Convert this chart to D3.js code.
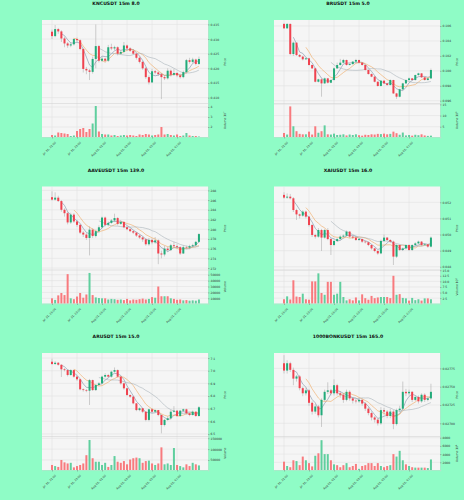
<!DOCTYPE html>
<html>
<head>
<meta charset="utf-8">
<script src="https://cdn.jsdelivr.net/npm/d3@7"></script>
<style>
  body { margin: 0; background: #8ffcc6; }
  svg text { font-family: "DejaVu Sans", sans-serif; }
</style>
</head>
<body>
<div id="chart"></div>
<script>
// shared x axis: 48 candles of 15m, a label every 8 candles
var xLabels = ["Jul 31, 21:00", "Jul 31, 23:00", "Aug 01, 01:00", "Aug 01, 03:00", "Aug 01, 05:00", "Aug 01, 07:00"];
var xTickIdx = [0, 8, 16, 24, 32, 40];
var maPeriods = [4, 8, 16];
var titles = ["KNCUSDT 15m 8.0", "BRUSDT 15m 5.0", "AAVEUSDT 15m 139.0", "XAIUSDT 15m 16.0", "ARUSDT 15m 15.0", "1000BONKUSDT 15m 165.0"];

// KNC
var kncOpen0 = 0.4325;
var kncClose = [0.4310, 0.4334, 0.4326, 0.4302, 0.4285, 0.4278, 0.4282, 0.4300, 0.4296, 0.4266, 0.4198, 0.4193, 0.4188, 0.4232, 0.4276, 0.4226, 0.4233, 0.4226, 0.4272, 0.4268, 0.4272, 0.4250, 0.4256, 0.4278, 0.4268, 0.4260, 0.4250, 0.4236, 0.4222, 0.4200, 0.4170, 0.4152, 0.4190, 0.4186, 0.4180, 0.4170, 0.4166, 0.4192, 0.4178, 0.4184, 0.4176, 0.4170, 0.4187, 0.4228, 0.4222, 0.4230, 0.4215, 0.4232];
var kncHigh = [0.4332, 0.4348, 0.4338, 0.4330, 0.4308, 0.4290, 0.4288, 0.4304, 0.4305, 0.4299, 0.4270, 0.4205, 0.4198, 0.4240, 0.4350, 0.4280, 0.4240, 0.4236, 0.4280, 0.4284, 0.4277, 0.4275, 0.4262, 0.4290, 0.4281, 0.4272, 0.4266, 0.4253, 0.4240, 0.4226, 0.4205, 0.4176, 0.4198, 0.4195, 0.4190, 0.4184, 0.4176, 0.4200, 0.4196, 0.4198, 0.4188, 0.4182, 0.4192, 0.4232, 0.4236, 0.4236, 0.4233, 0.4240];
var kncLow = [0.4300, 0.4306, 0.4318, 0.4290, 0.4272, 0.4270, 0.4272, 0.4278, 0.4290, 0.4262, 0.4186, 0.4180, 0.4160, 0.4182, 0.4200, 0.4220, 0.4222, 0.4220, 0.4222, 0.4262, 0.4262, 0.4244, 0.4246, 0.4252, 0.4262, 0.4256, 0.4246, 0.4230, 0.4217, 0.4195, 0.4164, 0.4145, 0.4150, 0.4180, 0.4174, 0.4095, 0.4160, 0.4162, 0.4172, 0.4174, 0.4170, 0.4165, 0.4166, 0.4182, 0.4216, 0.4218, 0.4210, 0.4212];
var kncVol = [1.20, 1.15, 1.45, 1.40, 1.35, 1.30, 1.10, 1.15, 1.60, 1.80, 1.90, 1.50, 1.80, 2.35, 4.10, 1.55, 1.30, 1.25, 1.25, 1.15, 1.20, 1.10, 1.15, 1.20, 1.15, 1.20, 1.15, 1.10, 1.25, 1.20, 1.30, 1.25, 1.15, 1.20, 1.25, 2.00, 1.25, 1.30, 1.20, 1.15, 1.25, 1.10, 1.15, 1.40, 1.15, 1.10, 1.10, 1.05];
var kncYLim = [0.4080, 0.4365];
var kncTicks = [0.410, 0.415, 0.420, 0.425, 0.430, 0.435];
var kncVLim = [1.0, 4.35];
var kncVTicks = [2, 3, 4];

// BR
var brOpen0 = 0.10627;
var brClose = [0.10569, 0.10627, 0.10225, 0.10377, 0.10212, 0.10190, 0.10154, 0.10167, 0.10078, 0.10033, 0.09854, 0.09886, 0.09832, 0.09899, 0.09841, 0.09877, 0.10033, 0.10078, 0.10109, 0.10145, 0.10078, 0.10090, 0.10123, 0.10145, 0.10109, 0.10078, 0.10011, 0.09957, 0.09922, 0.09854, 0.09797, 0.09868, 0.09832, 0.09810, 0.09877, 0.09698, 0.09654, 0.09752, 0.09832, 0.09877, 0.09899, 0.09877, 0.09944, 0.09966, 0.09913, 0.09877, 0.09899, 0.10011];
var brHigh = [0.10640, 0.10640, 0.10635, 0.10390, 0.10380, 0.10225, 0.10200, 0.10180, 0.10175, 0.10085, 0.10040, 0.09895, 0.09900, 0.09910, 0.09905, 0.09885, 0.10045, 0.10110, 0.10160, 0.10160, 0.10150, 0.10100, 0.10130, 0.10160, 0.10150, 0.10115, 0.10085, 0.10020, 0.09965, 0.09930, 0.09860, 0.09875, 0.09875, 0.09840, 0.09885, 0.09880, 0.09705, 0.09760, 0.09840, 0.09885, 0.09910, 0.09905, 0.09950, 0.09975, 0.09970, 0.09920, 0.09905, 0.10030];
var brLow = [0.10560, 0.10560, 0.10210, 0.10200, 0.10200, 0.10180, 0.10140, 0.10150, 0.10070, 0.10025, 0.09845, 0.09845, 0.09654, 0.09825, 0.09830, 0.09835, 0.09870, 0.10025, 0.10070, 0.10100, 0.10070, 0.10072, 0.10085, 0.10115, 0.10100, 0.10070, 0.10005, 0.09950, 0.09915, 0.09845, 0.09790, 0.09790, 0.09825, 0.09800, 0.09805, 0.09690, 0.09625, 0.09645, 0.09745, 0.09825, 0.09870, 0.09870, 0.09870, 0.09935, 0.09905, 0.09870, 0.09870, 0.09890];
var brVol = [2.2, 1.5, 14.1, 5.2, 3.0, 1.8, 1.6, 1.6, 2.8, 1.5, 5.2, 2.3, 3.0, 5.6, 1.6, 1.5, 1.9, 1.3, 1.4, 1.6, 1.1, 1.5, 1.3, 1.6, 1.2, 1.0, 1.4, 1.3, 1.6, 1.5, 1.8, 1.7, 1.9, 1.6, 1.8, 2.8, 2.1, 1.4, 2.4, 1.1, 1.3, 1.0, 1.4, 1.2, 1.6, 1.1, 0.9, 1.0];
var brYLim = [0.09563, 0.1068];
var brTicks = [0.096, 0.098, 0.100, 0.102, 0.104, 0.106];
var brVLim = [0.4, 15.4];
var brVTicks = [5, 10, 15];

// AAVE
var aaveOpen0 = 286.6;
var aaveClose = [286.1, 286.5, 285.8, 284.0, 283.3, 281.4, 283.0, 281.6, 280.9, 279.3, 278.9, 278.2, 279.9, 278.6, 279.6, 280.4, 282.4, 280.9, 281.3, 281.8, 282.3, 281.1, 281.5, 280.4, 280.0, 279.6, 279.3, 278.7, 278.3, 277.9, 276.9, 277.8, 277.3, 277.7, 275.0, 274.8, 276.0, 275.7, 276.7, 276.5, 276.3, 275.0, 276.3, 276.2, 276.5, 276.7, 277.4, 279.0];
var aaveHigh = [287.8, 287.6, 286.9, 286.0, 284.3, 283.6, 283.4, 283.3, 281.9, 281.0, 279.6, 279.2, 280.6, 280.2, 279.9, 280.8, 282.6, 282.6, 281.6, 282.1, 283.2, 282.5, 281.8, 281.6, 280.6, 280.2, 279.8, 279.4, 278.9, 278.5, 278.1, 278.2, 278.1, 278.4, 277.9, 275.6, 276.6, 276.4, 277.0, 277.4, 276.9, 276.5, 276.7, 276.6, 276.8, 277.0, 277.6, 279.2];
var aaveLow = [285.9, 285.9, 285.6, 283.6, 282.6, 281.0, 281.1, 281.3, 280.5, 279.0, 278.4, 277.8, 274.6, 278.2, 278.3, 279.2, 280.2, 280.6, 280.6, 281.1, 281.5, 280.8, 280.9, 280.2, 279.8, 279.4, 279.0, 278.4, 278.0, 277.4, 276.6, 276.6, 276.9, 277.0, 272.8, 274.0, 274.4, 275.4, 275.5, 276.2, 275.9, 274.7, 274.9, 275.9, 275.9, 276.2, 276.5, 277.2];
var aaveVol = [10000, 7300, 15000, 19000, 15500, 51000, 10000, 8500, 13000, 19000, 11000, 16500, 53000, 15500, 11500, 10500, 10000, 10000, 8000, 9000, 8500, 7500, 8000, 7000, 9000, 6500, 8000, 7500, 8500, 9500, 8000, 9000, 12000, 11000, 30000, 13500, 13500, 13500, 10000, 9000, 7500, 8000, 6500, 7000, 6000, 6500, 6000, 8000];
var aaveYLim = [271.6, 288.8];
var aaveTicks = [272, 274, 276, 278, 280, 282, 284, 286, 288];
var aaveVLim = [1200, 58000];
var aaveVTicks = [10000, 20000, 30000, 40000, 50000];

// XAI
var xaiOpen0 = 0.05246;
var xaiClose = [0.05229, 0.05235, 0.05225, 0.05152, 0.05125, 0.05117, 0.05142, 0.05111, 0.05059, 0.04997, 0.04987, 0.05028, 0.04981, 0.05028, 0.04972, 0.04935, 0.04960, 0.04972, 0.04987, 0.04993, 0.05018, 0.04987, 0.04981, 0.04966, 0.04972, 0.04956, 0.04952, 0.04935, 0.04914, 0.04898, 0.04883, 0.04960, 0.04981, 0.04966, 0.04956, 0.04863, 0.04935, 0.04904, 0.04914, 0.04935, 0.04904, 0.04935, 0.04945, 0.04956, 0.04935, 0.04939, 0.04925, 0.04981];
var xaiHigh = [0.05262, 0.05255, 0.05252, 0.05232, 0.05160, 0.05130, 0.05150, 0.05148, 0.05115, 0.05065, 0.05005, 0.05040, 0.05035, 0.05035, 0.05040, 0.04978, 0.04968, 0.04978, 0.04995, 0.05000, 0.05025, 0.05022, 0.04992, 0.04986, 0.04978, 0.04975, 0.04960, 0.04955, 0.04938, 0.04918, 0.04902, 0.04968, 0.05000, 0.04985, 0.04970, 0.04962, 0.04940, 0.04938, 0.04920, 0.04940, 0.04940, 0.04940, 0.04952, 0.04962, 0.04960, 0.04945, 0.04942, 0.04988];
var xaiLow = [0.05222, 0.05222, 0.05218, 0.05140, 0.05090, 0.05100, 0.05110, 0.05100, 0.05050, 0.04985, 0.04975, 0.04980, 0.04898, 0.04975, 0.04965, 0.04873, 0.04928, 0.04955, 0.04965, 0.04982, 0.04988, 0.04978, 0.04972, 0.04960, 0.04960, 0.04948, 0.04945, 0.04928, 0.04906, 0.04890, 0.04875, 0.04878, 0.04955, 0.04960, 0.04948, 0.04811, 0.04855, 0.04898, 0.04900, 0.04908, 0.04898, 0.04898, 0.04930, 0.04940, 0.04928, 0.04930, 0.04918, 0.04920];
var xaiVol = [2.0, 3.3, 1.9, 10.5, 3.2, 3.0, 4.5, 2.0, 1.8, 10.0, 10.0, 13.6, 4.8, 4.0, 9.8, 9.8, 4.0, 4.5, 9.8, 3.0, 1.5, 2.0, 1.5, 2.8, 1.5, 4.2, 2.5, 1.8, 3.5, 2.5, 2.8, 3.0, 3.0, 3.0, 2.5, 12.5, 4.0, 4.3, 2.6, 2.4, 1.4, 2.6, 1.6, 2.0, 1.4, 2.4, 2.4, 2.0];
var xaiYLim = [0.0478, 0.05298];
var xaiTicks = [0.048, 0.049, 0.050, 0.051, 0.052];
var xaiVLim = [0.1, 15.1];
var xaiVTicks = [2.5, 5.0, 7.5, 10.0, 12.5, 15.0];

// AR
var arOpen0 = 7.071;
var arClose = [7.053, 7.063, 7.047, 7.011, 7.005, 6.966, 7.005, 6.953, 6.932, 6.853, 6.847, 6.842, 6.926, 6.847, 6.887, 6.900, 6.953, 6.966, 6.953, 6.992, 7.005, 6.953, 6.900, 6.861, 6.808, 6.795, 6.742, 6.689, 6.703, 6.676, 6.611, 6.695, 6.676, 6.689, 6.650, 6.571, 6.611, 6.624, 6.676, 6.684, 6.642, 6.684, 6.695, 6.663, 6.650, 6.676, 6.642, 6.711];
var arHigh = [7.095, 7.075, 7.068, 7.050, 7.020, 7.010, 7.012, 7.010, 6.960, 6.935, 6.860, 6.855, 6.935, 6.930, 6.895, 6.910, 6.960, 6.980, 6.975, 7.000, 7.026, 7.010, 6.955, 6.905, 6.865, 6.812, 6.800, 6.745, 6.710, 6.705, 6.680, 6.700, 6.705, 6.695, 6.690, 6.655, 6.620, 6.640, 6.690, 6.720, 6.690, 6.690, 6.700, 6.700, 6.668, 6.685, 6.680, 6.720];
var arLow = [7.045, 7.045, 7.040, 6.950, 6.995, 6.955, 6.960, 6.945, 6.920, 6.845, 6.835, 6.830, 6.729, 6.840, 6.840, 6.880, 6.895, 6.945, 6.945, 6.945, 6.985, 6.945, 6.890, 6.850, 6.800, 6.785, 6.735, 6.680, 6.680, 6.665, 6.600, 6.600, 6.665, 6.670, 6.640, 6.505, 6.560, 6.605, 6.615, 6.670, 6.635, 6.635, 6.675, 6.655, 6.640, 6.645, 6.635, 6.636];
var arVol = [27000, 22000, 18000, 50000, 39000, 34000, 37000, 16000, 22000, 27000, 34000, 72000, 142000, 58000, 42000, 42000, 27000, 37000, 18000, 27000, 68000, 42000, 37000, 45000, 30000, 52000, 58000, 61000, 58000, 37000, 45000, 47000, 34000, 27000, 34000, 108000, 30000, 34000, 27000, 105000, 27000, 22000, 16000, 30000, 22000, 37000, 30000, 25000];
var arYLim = [6.48, 7.14];
var arTicks = [6.5, 6.6, 6.7, 6.8, 6.9, 7.0, 7.1];
var arVLim = [3900, 158000];
var arVTicks = [50000, 100000, 150000];

// 1000BONK
var bonkOpen0 = 0.02782;
var bonkClose = [0.02772, 0.02782, 0.02773, 0.02761, 0.02764, 0.02748, 0.02741, 0.02745, 0.02728, 0.02716, 0.02723, 0.02711, 0.02732, 0.02743, 0.02745, 0.02741, 0.02752, 0.02741, 0.02739, 0.02732, 0.02743, 0.02734, 0.02731, 0.02730, 0.02732, 0.02727, 0.02720, 0.02714, 0.02708, 0.02705, 0.02700, 0.02718, 0.02716, 0.02710, 0.02716, 0.02699, 0.02718, 0.02720, 0.02743, 0.02741, 0.02743, 0.02732, 0.02736, 0.02730, 0.02739, 0.02732, 0.02734, 0.02743];
var bonkHigh = [0.02793, 0.02786, 0.02784, 0.02776, 0.02766, 0.02766, 0.02750, 0.02748, 0.02747, 0.02730, 0.02726, 0.02725, 0.02734, 0.02746, 0.02756, 0.02747, 0.02760, 0.02754, 0.02744, 0.02741, 0.02746, 0.02745, 0.02736, 0.02733, 0.02735, 0.02734, 0.02729, 0.02722, 0.02716, 0.02710, 0.02707, 0.02722, 0.02721, 0.02718, 0.02720, 0.02718, 0.02720, 0.02724, 0.02757, 0.02747, 0.02746, 0.02744, 0.02738, 0.02738, 0.02741, 0.02741, 0.02737, 0.02754];
var bonkLow = [0.02768, 0.02768, 0.02770, 0.02752, 0.02757, 0.02745, 0.02737, 0.02738, 0.02724, 0.02712, 0.02713, 0.02708, 0.02695, 0.02730, 0.02740, 0.02738, 0.02738, 0.02738, 0.02735, 0.02728, 0.02730, 0.02731, 0.02727, 0.02727, 0.02728, 0.02724, 0.02717, 0.02711, 0.02704, 0.02701, 0.02697, 0.02698, 0.02712, 0.02707, 0.02707, 0.02692, 0.02697, 0.02715, 0.02718, 0.02737, 0.02738, 0.02729, 0.02730, 0.02727, 0.02728, 0.02729, 0.02730, 0.02732];
var bonkVol = [2150, 1100, 800, 2500, 2300, 1300, 3400, 2500, 1800, 1000, 3600, 4200, 7400, 4000, 4000, 2500, 1500, 1300, 800, 1300, 1800, 800, 1100, 1600, 400, 1100, 1300, 1800, 1800, 1100, 1800, 1100, 800, 1100, 1300, 4000, 3400, 4800, 2500, 1500, 1100, 800, 700, 700, 700, 700, 600, 2700];
var bonkYLim = [0.02682, 0.02796];
var bonkTicks = [0.02700, 0.02725, 0.02750, 0.02775];
var bonkVLim = [120, 8300];
var bonkVTicks = [2000, 4000, 6000, 8000];

// colors
var upColor = "#22ab7a", downColor = "#f0424f";
var volUp = "#5fcf9e", volDown = "#f87a7e";
var wickColor = "#a3a3a3";
var maColors = ["#7d8fa6", "#f0a860", "#a9b4ba"];

// table built from the arrays above
var panels = [
  {open0: kncOpen0, close: kncClose, high: kncHigh, low: kncLow, vol: kncVol, ylim: kncYLim, ticks: kncTicks, fmt: ".3f", vlim: kncVLim, vticks: kncVTicks, vfmt: "d", vexp: "7"},
  {open0: brOpen0, close: brClose, high: brHigh, low: brLow, vol: brVol, ylim: brYLim, ticks: brTicks, fmt: ".3f", vlim: brVLim, vticks: brVTicks, vfmt: "d", vexp: "6"},
  {open0: aaveOpen0, close: aaveClose, high: aaveHigh, low: aaveLow, vol: aaveVol, ylim: aaveYLim, ticks: aaveTicks, fmt: "d", vlim: aaveVLim, vticks: aaveVTicks, vfmt: "d", vexp: ""},
  {open0: xaiOpen0, close: xaiClose, high: xaiHigh, low: xaiLow, vol: xaiVol, ylim: xaiYLim, ticks: xaiTicks, fmt: ".3f", vlim: xaiVLim, vticks: xaiVTicks, vfmt: ".1f", vexp: "6"},
  {open0: arOpen0, close: arClose, high: arHigh, low: arLow, vol: arVol, ylim: arYLim, ticks: arTicks, fmt: ".1f", vlim: arVLim, vticks: arVTicks, vfmt: "d", vexp: ""},
  {open0: bonkOpen0, close: bonkClose, high: bonkHigh, low: bonkLow, vol: bonkVol, ylim: bonkYLim, ticks: bonkTicks, fmt: ".5f", vlim: bonkVLim, vticks: bonkVTicks, vfmt: "d", vexp: "4"}
];

var svgWidth = 464, svgHeight = 500;
var panelW = 232, panelH = 166.5;
// plot area inside each panel
var plot = {left: 42, right: 208, top: 20, mid: 103.5, bottom: 137};

var svg = d3.select("#chart")
  .append("svg")
  .attr("width", svgWidth)
  .attr("height", svgHeight);

svg.append("rect").attr("width", svgWidth).attr("height", svgHeight).attr("fill", "#8ffcc6");

var x = d3.scaleLinear().domain([-3.2, 49.9]).range([plot.left, plot.right]);

panels.forEach(function(p, k) {
  var ox = (k % 2) * panelW;
  var oy = Math.floor(k / 2) * panelH;
  var g = svg.append("g").attr("transform", `translate(${ox}, ${oy})`);

  var n = p.close.length;
  var data = p.close.map(function(c, i) {
    var o = i === 0 ? p.open0 : p.close[i - 1];
    return {i: i, o: o, c: c, h: p.high[i], l: p.low[i], v: p.vol[i]};
  });

  var y = d3.scaleLinear().domain(p.ylim).range([plot.mid, plot.top]);
  var yv = d3.scaleLinear().domain(p.vlim).range([plot.bottom, plot.mid]);

  // title
  g.append("text")
    .attr("x", 116).attr("y", 5)
    .attr("text-anchor", "middle")
    .attr("font-size", 4.6).attr("font-weight", "bold")
    .attr("fill", "#111")
    .text(titles[k]);

  // backgrounds
  g.append("rect").attr("x", plot.left).attr("y", plot.top)
    .attr("width", plot.right - plot.left).attr("height", plot.bottom - plot.top)
    .attr("fill", "#f5f5f5");

  // grid
  var grid = g.append("g").attr("stroke", "#dedede").attr("stroke-width", 0.5);
  xTickIdx.forEach(function(t) {
    grid.append("line").attr("x1", x(t)).attr("x2", x(t))
      .attr("y1", plot.top).attr("y2", plot.bottom);
  });
  p.ticks.forEach(function(t) {
    grid.append("line").attr("x1", plot.left).attr("x2", plot.right)
      .attr("y1", y(t)).attr("y2", y(t));
  });
  p.vticks.forEach(function(t) {
    grid.append("line").attr("x1", plot.left).attr("x2", plot.right)
      .attr("y1", yv(t)).attr("y2", yv(t));
  });

  // volume bars
  g.append("g").selectAll("rect")
    .data(data).enter().append("rect")
    .attr("x", d => x(d.i) - 1)
    .attr("width", 2)
    .attr("y", d => yv(d.v))
    .attr("height", d => Math.max(0, plot.bottom - yv(d.v)))
    .attr("fill", d => d.c >= d.o ? volUp : volDown);

  // wicks
  g.append("g").selectAll("line")
    .data(data).enter().append("line")
    .attr("x1", d => x(d.i)).attr("x2", d => x(d.i))
    .attr("y1", d => y(d.h)).attr("y2", d => y(d.l))
    .attr("stroke", wickColor).attr("stroke-width", 0.5);

  // moving averages
  maPeriods.forEach(function(per, m) {
    var ma = p.close.map(function(c, i) {
      return i < per - 1 ? null : d3.mean(p.close.slice(i - per + 1, i + 1));
    });
    var line = d3.line()
      .defined(d => d !== null)
      .x((d, i) => x(i))
      .y(d => y(d));
    g.append("path").datum(ma)
      .attr("d", line)
      .attr("fill", "none")
      .attr("stroke", maColors[m])
      .attr("stroke-width", 0.6);
  });

  // candle bodies
  g.append("g").selectAll("rect")
    .data(data).enter().append("rect")
    .attr("x", d => x(d.i) - 1)
    .attr("width", 2)
    .attr("y", d => y(Math.max(d.o, d.c)))
    .attr("height", d => Math.max(0.5, Math.abs(y(d.o) - y(d.c))))
    .attr("fill", d => d.c >= d.o ? upColor : downColor);

  // panel edges
  g.append("line").attr("x1", plot.left).attr("x2", plot.right)
    .attr("y1", plot.mid).attr("y2", plot.mid)
    .attr("stroke", "#cfcfcf").attr("stroke-width", 0.5);

  // right axes
  var priceAxis = g.append("g")
    .attr("transform", `translate(${plot.right}, 0)`)
    .call(d3.axisRight(y).tickValues(p.ticks).tickFormat(d3.format(p.fmt)).tickSize(1.5).tickPadding(1));
  var volAxis = g.append("g")
    .attr("transform", `translate(${plot.right}, 0)`)
    .call(d3.axisRight(yv).tickValues(p.vticks).tickFormat(d3.format(p.vfmt)).tickSize(1.5).tickPadding(1));
  [priceAxis, volAxis].forEach(function(ax) {
    ax.select(".domain").attr("stroke", "#d0d0d0").attr("stroke-width", 0.4);
    ax.selectAll(".tick line").attr("stroke", "#666").attr("stroke-width", 0.4);
    ax.selectAll("text").attr("font-size", 3).attr("fill", "#333");
  });

  // x axis
  var xAxis = g.append("g")
    .attr("transform", `translate(0, ${plot.bottom})`)
    .call(d3.axisBottom(x).tickValues(xTickIdx).tickFormat((d, i) => xLabels[i]).tickSize(1.5));
  xAxis.select(".domain").attr("stroke", "#d0d0d0").attr("stroke-width", 0.4);
  xAxis.selectAll(".tick line").attr("stroke", "#666").attr("stroke-width", 0.4);
  xAxis.selectAll("text")
    .attr("font-size", 2.8).attr("fill", "#333")
    .attr("text-anchor", "end")
    .attr("dy", "0.3em")
    .attr("transform", "translate(0, 2) rotate(-45)");

  // axis labels
  g.append("text")
    .attr("transform", `translate(226, ${(plot.top + plot.mid) / 2}) rotate(-90)`)
    .attr("text-anchor", "middle")
    .attr("font-size", 3).attr("fill", "#333")
    .text("Price");
  var vl = g.append("text")
    .attr("transform", `translate(226, ${(plot.mid + plot.bottom) / 2}) rotate(-90)`)
    .attr("text-anchor", "middle")
    .attr("font-size", 3).attr("fill", "#333")
    .text(p.vexp ? "Volume  10" : "Volume");
  if (p.vexp) {
    vl.append("tspan").attr("font-size", 2.2).attr("dy", -1.2).text(p.vexp);
  }
});
</script>
</body>
</html>
